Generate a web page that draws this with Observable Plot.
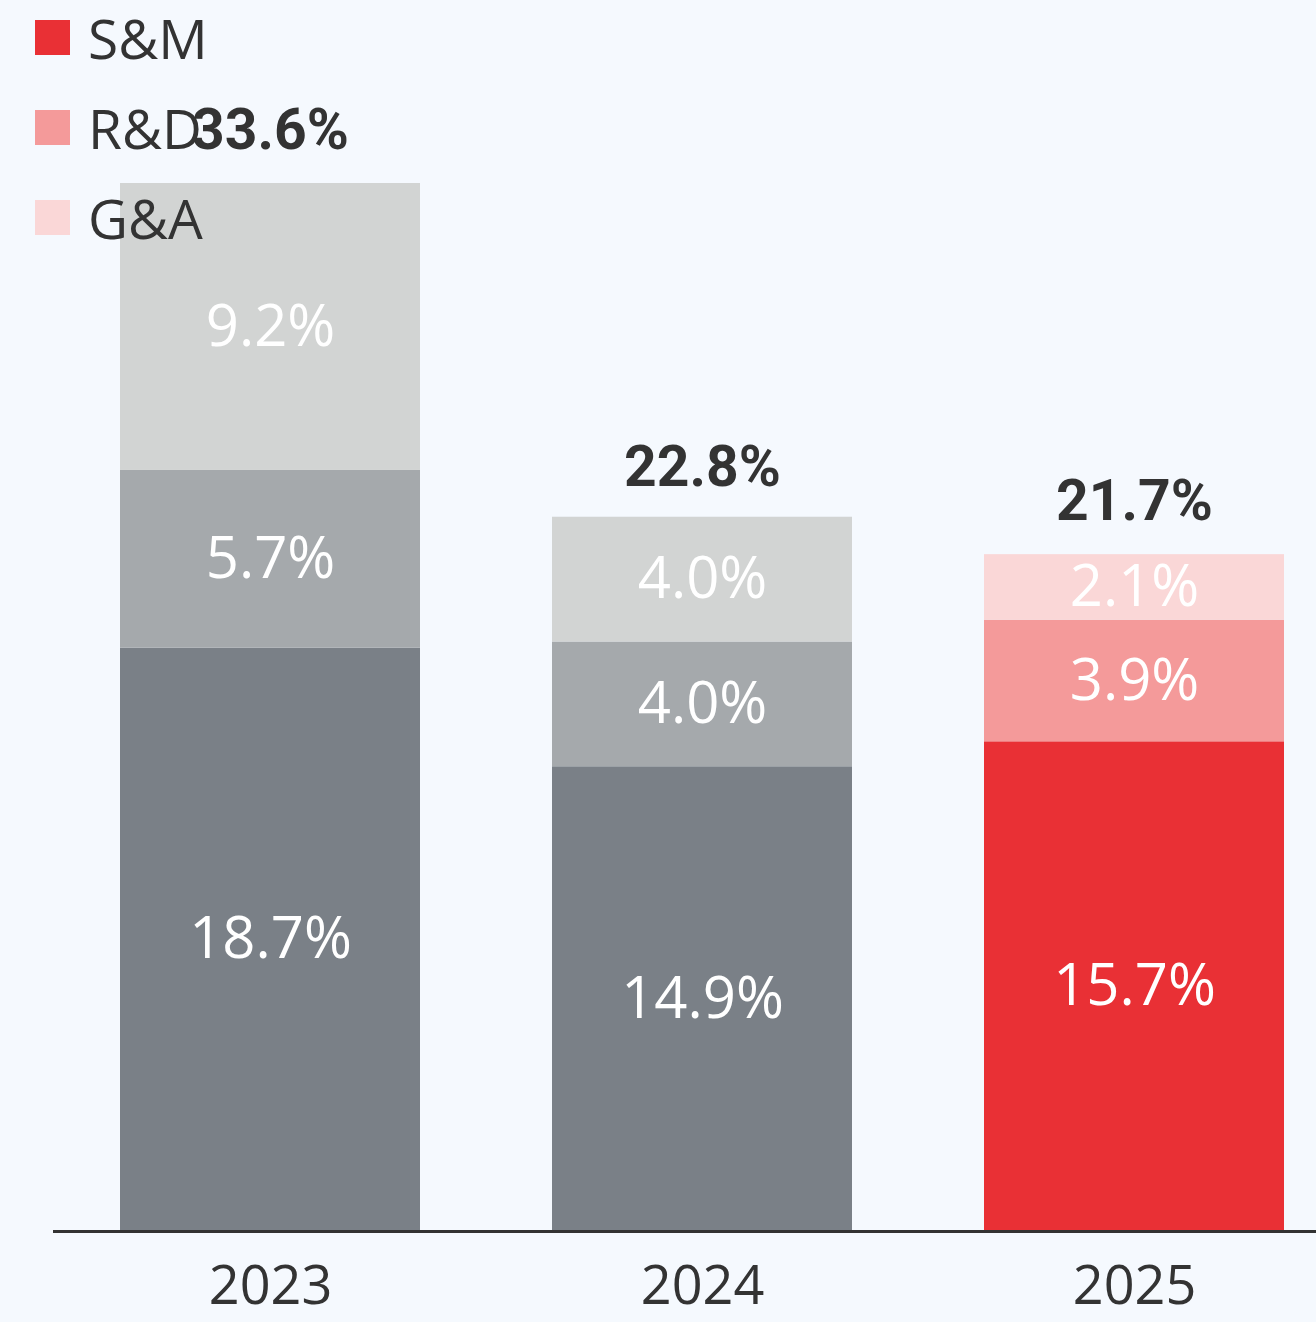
<!DOCTYPE html>
<html>
<head>
<meta charset="utf-8">
<script src="https://cdn.jsdelivr.net/npm/d3@7"></script>
<script src="https://cdn.jsdelivr.net/npm/@observablehq/plot@0.6"></script>
<style>
  html, body { margin: 0; padding: 0; background: #f5f9fe; }
  #wrap { position: relative; width: 1316px; height: 1322px; overflow: hidden; }
  #legend { position: absolute; left: 35px; top: 9px; z-index: 2; font-family: "Open Sans", sans-serif; font-size: 55px; color: #333; }
  .item { display: flex; align-items: center; height: 56px; margin-bottom: 34px; }
  .sw { width: 35px; height: 35px; margin-right: 18px; flex: none; }
</style>
</head>
<body>
<div id="wrap"><div id="chart"></div><div id="legend"></div></div>
<script>
const years = ["2023", "2024", "2025"];
const categories = ["S&M", "R&D", "G&A"];
const smValues = [18.7, 14.9, 15.7];
const rdValues = [5.7, 4.0, 3.9];
const gaValues = [9.2, 4.0, 2.1];
const totals = [33.6, 22.8, 21.7];
const greyColors = ["#7a8087", "#a5a9ac", "#d2d4d3"];
const redColors = ["#e93035", "#f49a9a", "#fad7d7"];

const series = [smValues, rdValues, gaValues];
const data = [];
years.forEach((yr, i) => {
  categories.forEach((c, j) => {
    const palette = yr === "2025" ? redColors : greyColors;
    data.push({year: yr, cat: c, value: series[j][i], fill: palette[j], order: j});
  });
});
const totalData = years.map((yr, i) => ({year: yr, total: totals[i]}));

const stackOpts = {x: "year", y: "value", order: "order"};

const chart = Plot.plot({
  width: 1316,
  height: 1322,
  marginLeft: 53,
  marginRight: 0,
  marginTop: 183,
  marginBottom: 91,
  style: {background: "transparent", overflow: "visible"},
  x: {domain: years, paddingInner: 0.306, paddingOuter: 0.112, align: 0.68, label: null},
  y: {domain: [0, 33.6], axis: null},
  marks: [
    Plot.barY(data, Plot.stackY({...stackOpts, fill: "fill"})),
    Plot.text(data, Plot.stackY({...stackOpts, y: "value", text: d => d.value.toFixed(1) + "%", fill: "#fff",
      fontSize: 58, fontFamily: "Open Sans", lineAnchor: "middle"})),
    Plot.text(totalData, {x: "year", y: "total", text: d => d.total.toFixed(1) + "%", dy: -53,
      fill: "#333", fontSize: 57, fontWeight: "bold", fontFamily: "Roboto", lineAnchor: "middle"}),
    Plot.ruleY([0], {stroke: "#333", strokeWidth: 3}),
    Plot.axisX({tickSize: 0, tickPadding: 34, fontSize: 54, fontFamily: "Open Sans", color: "#333", label: null})
  ]
});
document.getElementById("chart").appendChild(chart);

const legend = document.getElementById("legend");
categories.forEach((c, j) => {
  const item = document.createElement("div");
  item.className = "item";
  const sw = document.createElement("div");
  sw.className = "sw";
  sw.style.background = redColors[j];
  const label = document.createElement("span");
  label.textContent = c;
  item.appendChild(sw);
  item.appendChild(label);
  legend.appendChild(item);
});
</script>
</body>
</html>
